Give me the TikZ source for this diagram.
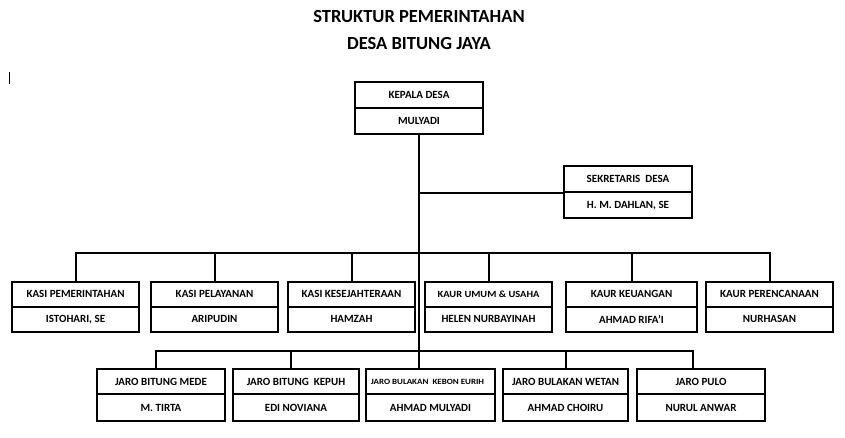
\documentclass[tikz,border=0pt]{standalone}
\usepackage{fontspec}
\setmainfont{Carlito}
\begin{document}
\begin{tikzpicture}[x=1pt,y=-1pt,
  line width=2pt,
  cell/.style={draw, line width=2pt, rectangle, inner sep=0pt, font=\bfseries\fontsize{11}{12}\selectfont, text depth=0pt, anchor=center},
  wire/.style={draw, line width=2pt},
  ttl/.style={font=\bfseries\fontsize{18.5}{20}\selectfont, inner sep=0pt}]
\useasboundingbox (0,0) rectangle (845,437);
% title
\node[ttl] (t1) at (419,16) {STRUKTUR PEMERINTAHAN};
\node[ttl] (t2) at (419,43) {DESA BITUNG JAYA};
% cursor mark
\coordinate (cu1) at (9,72);
\coordinate (cu2) at (9,84);
\draw[line width=1pt] (cu1) -- (cu2);
% Kepala desa
\node[cell, minimum width=128pt, minimum height=26pt] (kd) at (419,95) {KEPALA DESA};
\node[cell, minimum width=128pt, minimum height=26pt] (kdb) at (419,121) {MULYADI};
% Sekretaris
\node[cell, minimum width=128pt, minimum height=26pt] (sk) at (628,179) {SEKRETARIS\ \ DESA};
\node[cell, minimum width=128pt, minimum height=26pt] (skb) at (628,205) {H. M. DAHLAN, SE};
% row 1
\foreach \n/\x/\w/\a/\b in {
  a1/75.5/127/KASI PEMERINTAHAN/ISTOHARI{,} SE,
  a2/214.5/127/KASI PELAYANAN/ARIPUDIN,
  a3/351.5/127/KASI KESEJAHTERAAN/HAMZAH,
  a5/631.5/131/KAUR KEUANGAN/AHMAD RIFA’I,
  a6/769.5/127/KAUR PERENCANAAN/NURHASAN}{
  \node[cell, minimum width=\w pt, minimum height=24.5pt] (\n) at (\x,294.25) {\a};
  \node[cell, minimum width=\w pt, minimum height=25.5pt] (\n b) at (\x,319.25) {\b};
}
\node[cell, minimum width=127pt, minimum height=24.5pt, font=\bfseries\fontsize{9.5}{10}\selectfont] (a4) at (488.5,294.25) {\scalebox{1.1}[1]{KAUR UMUM \& USAHA}};
\node[cell, minimum width=127pt, minimum height=25.5pt] (a4b) at (488.5,319.25) {HELEN NURBAYINAH};
% row 2
\foreach \n/\x/\w/\a/\b in {
  b1/161/128/JARO BITUNG\ MEDE/M. TIRTA,
  b2/296/126/JARO BITUNG\ \ KEPUH/EDI NOVIANA,
  b4/565.5/125/JARO BULAKAN WETAN/AHMAD CHOIRU}{
  \node[cell, minimum width=\w pt, minimum height=25pt] (\n) at (\x,381.5) {\a};
  \node[cell, minimum width=\w pt, minimum height=27pt] (\n b) at (\x,407.5) {\b};
}
\node[cell, minimum width=129pt, minimum height=25pt, font=\bfseries\fontsize{8}{9}\selectfont] (b3) at (430.5,381.5) {\hspace*{-6pt}\scalebox{1.12}[1]{JARO BULAKAN\ \ KEBON EURIH}};
\node[cell, minimum width=129pt, minimum height=27pt] (b3b) at (430.5,407.5) {AHMAD MULYADI};
\node[cell, minimum width=128pt, minimum height=25pt] (b5) at (701,381.5) {JARO PULO};
\node[cell, minimum width=128pt, minimum height=27pt] (b5b) at (701,407.5) {\raisebox{-1.5pt}{NURUL ANWAR}};
% connectors
\coordinate (bus1) at (419,253);
\coordinate (bus2) at (419,351);
\draw[wire] (kdb.south) -- (bus1) -- (bus2) -- (b3.north -| bus2);
\draw[wire] (bus1 |- sk.south) -- (sk.south west);
\draw[wire] (a1.north) |- (bus1) -| (a6.north);
\foreach \n in {a2,a3,a4,a5} \draw[wire] (\n.north) -- (\n.north |- bus1);
\draw[wire] ([xshift=-5pt]b1.north) |- (bus2) -| ([xshift=-8pt]b5.north);
\draw[wire] ([xshift=-5pt]b2.north) -- ([xshift=-5pt]b2.north |- bus2);
\draw[wire] (b4.north) -- (b4.north |- bus2);
\end{tikzpicture}
\end{document}
